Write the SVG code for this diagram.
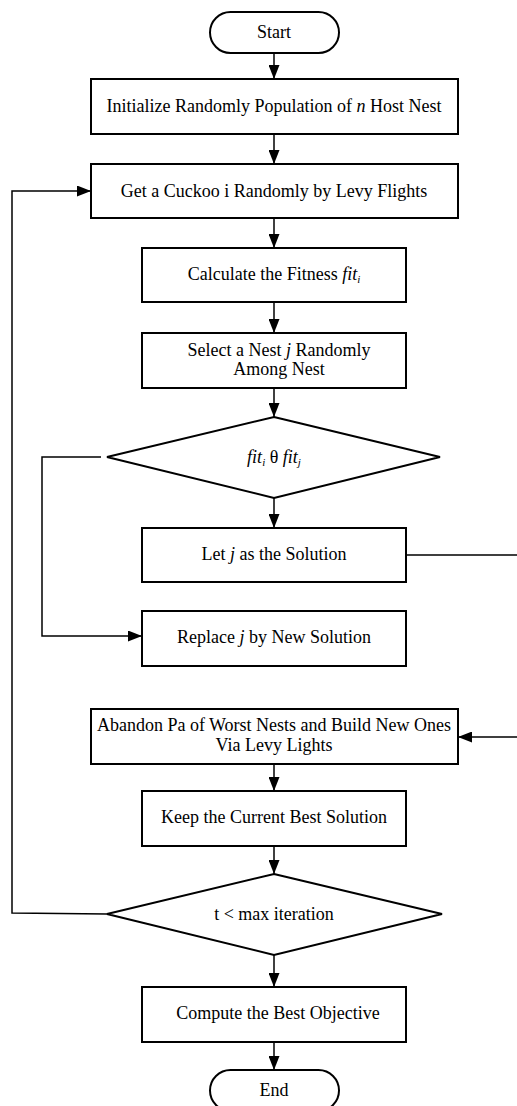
<svg xmlns="http://www.w3.org/2000/svg" width="517" height="1106" viewBox="0 0 517 1106">
<defs>
<marker id="ah" viewBox="0 0 14 11" refX="14" refY="5.5" markerWidth="14" markerHeight="11" markerUnits="userSpaceOnUse" orient="auto">
<path d="M0,0 L14,5.5 L0,11 Z" fill="#000"/>
</marker>
</defs>
<style>
.n{fill:#fff;stroke:#000;stroke-width:2}
.t{font-family:"Liberation Serif","Times New Roman",serif;font-size:18px;fill:#000;text-anchor:middle}
.i{font-style:italic}
.c{fill:none;stroke:#000;stroke-width:1.5}
</style>
<rect width="517" height="1106" fill="#fff"/>
<g id="connectors">
<path class="c" d="M274,53 V79" marker-end="url(#ah)"/>
<path class="c" d="M274,134 V164" marker-end="url(#ah)"/>
<path class="c" d="M274,218 V248" marker-end="url(#ah)"/>
<path class="c" d="M274,302 V333" marker-end="url(#ah)"/>
<path class="c" d="M274,388 V417" marker-end="url(#ah)"/>
<path class="c" d="M274,498 V528" marker-end="url(#ah)"/>
<path class="c" d="M101,457 H42 V636 H142" marker-end="url(#ah)"/>
<path class="c" d="M406,555 H520 V737 H458" marker-end="url(#ah)"/>
<path class="c" d="M274,764 V791" marker-end="url(#ah)"/>
<path class="c" d="M274,846 V874" marker-end="url(#ah)"/>
<path class="c" d="M107,914 L12,913 V191 H91" marker-end="url(#ah)"/>
<path class="c" d="M274,955 V987" marker-end="url(#ah)"/>
<path class="c" d="M274,1042 V1070" marker-end="url(#ah)"/>
</g>
<g id="start">
<rect class="n" x="210" y="12" width="129" height="41" rx="20.5"/>
<text class="t" x="274" y="38">Start</text>
</g>
<g id="init">
<rect class="n" x="91" y="79" width="367" height="55"/>
<text class="t" x="274" y="112">Initialize Randomly Population of <tspan class="i">n</tspan> Host Nest</text>
</g>
<g id="getcuckoo">
<rect class="n" x="91" y="164" width="367" height="54"/>
<text class="t" x="274" y="197">Get a Cuckoo i Randomly by Levy Flights</text>
</g>
<g id="calc">
<rect class="n" x="142" y="248" width="264" height="54"/>
<text class="t" x="274" y="280">Calculate the Fitness <tspan class="i">fit</tspan><tspan class="i" font-size="11" dy="3">i</tspan></text>
</g>
<g id="select">
<rect class="n" x="142" y="333" width="264" height="55"/>
<text class="t" x="279" y="356">Select a Nest <tspan class="i">j</tspan> Randomly</text>
<text class="t" x="279" y="375">Among  Nest</text>
</g>
<g id="decision1">
<polygon class="n" points="274,417 440,457 274,498 107,457"/>
<text class="t" x="274" y="463"><tspan class="i">fit</tspan><tspan class="i" font-size="11" dy="3">i</tspan><tspan dy="-3"> θ </tspan><tspan class="i">fit</tspan><tspan class="i" font-size="11" dy="3">j</tspan></text>
</g>
<g id="letj">
<rect class="n" x="142" y="528" width="264" height="54"/>
<text class="t" x="274" y="560">Let <tspan class="i">j</tspan> as the Solution</text>
</g>
<g id="replace">
<rect class="n" x="142" y="611" width="264" height="55"/>
<text class="t" x="274" y="643">Replace <tspan class="i">j</tspan> by New Solution</text>
</g>
<g id="abandon">
<rect class="n" x="91" y="709" width="367" height="55"/>
<text class="t" x="274" y="731">Abandon Pa of Worst Nests and Build New Ones</text>
<text class="t" x="274" y="751">Via Levy Lights</text>
</g>
<g id="keep">
<rect class="n" x="142" y="791" width="264" height="55"/>
<text class="t" x="274" y="823">Keep the Current Best Solution</text>
</g>
<g id="decision2">
<polygon class="n" points="274,874 442,914 274,955 107,914"/>
<text class="t" x="274" y="920">t &lt; max iteration</text>
</g>
<g id="compute">
<rect class="n" x="142" y="987" width="264" height="55"/>
<text class="t" x="278" y="1019">Compute the Best Objective</text>
</g>
<g id="end">
<rect class="n" x="210" y="1070" width="129" height="41" rx="20.5"/>
<text class="t" x="274" y="1096">End</text>
</g>
</svg>
